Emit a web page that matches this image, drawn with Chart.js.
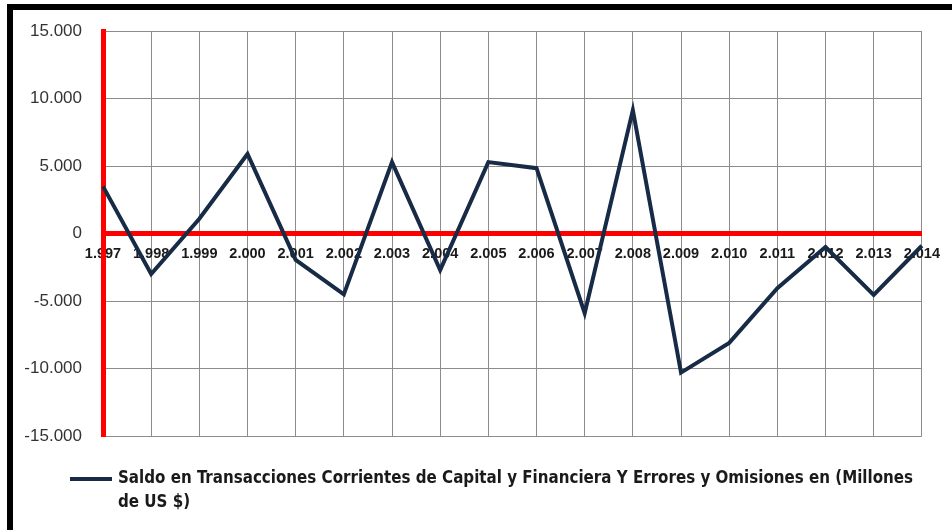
<!DOCTYPE html>
<html>
<head>
  <title>Saldo en Transacciones Corrientes</title>
  <script src="https://cdn.jsdelivr.net/npm/chart.js"></script>
  <style>
    body {
      margin: 0;
      background: #ffffff;
    }
    .frame {
      position: absolute;
      left: 7px;
      top: 4px;
      width: 960px;
      height: 540px;
      border-left: 6px solid #000;
      border-top: 6px solid #000;
    }
    .wrap {
      position: absolute;
      left: 0;
      top: 0;
      width: 952px;
      height: 530px;
    }
  </style>
</head>
<body>
  <div class="frame"></div>
  <div class="wrap">
    <canvas id="chart" width="952" height="530"></canvas>
  </div>

  <script>
    // datos
    const years = ["1.997", "1.998", "1.999", "2.000", "2.001", "2.002", "2.003", "2.004", "2.005",
                   "2.006", "2.007", "2.008", "2.009", "2.010", "2.011", "2.012", "2.013", "2.014"];
    const saldo = [3500, -3000, 1100, 5900, -1950, -4500, 5300, -2700, 5300,
                   4850, -5900, 9150, -10300, -8100, -4050, -1000, -4550, -900];
    const serieNombre = "Saldo en Transacciones Corrientes de Capital y Financiera Y Errores y Omisiones en (Millones de US $)";
    const yMin = -15000;
    const yMax = 15000;
    const yStep = 5000;

    const lineColor = "#172b46";

    // leyenda en dos lineas, como en el original
    const legendPlugin = {
      id: "wrapLegend",
      afterDraw(chart) {
        const ctx = chart.ctx;
        const ds = chart.data.datasets[0];
        const x0 = 70, y0 = 479, maxW = 805, lh = 24;
        ctx.save();
        ctx.strokeStyle = ds.borderColor;
        ctx.lineWidth = 4;
        ctx.beginPath();
        ctx.moveTo(x0, y0);
        ctx.lineTo(x0 + 42, y0);
        ctx.stroke();
        ctx.font = "bold 16.8px 'DejaVu Sans Condensed', 'Liberation Sans', sans-serif";
        ctx.fillStyle = "#1a1a1a";
        ctx.textBaseline = "middle";
        const words = ds.label.split(" ");
        let lines = [], cur = "";
        words.forEach(w => {
          const t = cur ? cur + " " + w : w;
          if (ctx.measureText(t).width > maxW && cur) {
            lines.push(cur);
            cur = w;
          } else {
            cur = t;
          }
        });
        lines.push(cur);
        lines.forEach((l, i) => ctx.fillText(l, x0 + 48, y0 + i * lh));
        ctx.restore();
      }
    };

    const ctx = document.getElementById("chart").getContext("2d");
    new Chart(ctx, {
      type: "line",
      data: {
        labels: years,
        datasets: [{
          label: serieNombre,
          data: saldo,
          borderColor: lineColor,
          backgroundColor: lineColor,
          borderWidth: 4,
          pointRadius: 0,
          tension: 0,
          fill: false,
        }],
      },
      options: {
        responsive: false,
        animation: false,
        layout: {
          padding: { top: 31, left: 0, right: 26, bottom: 94 },
        },
        plugins: {
          legend: { display: false },
          tooltip: { enabled: false },
        },
        scales: {
          x: {
            position: { y: 0 },
            grid: {
              color: (c) => c.index === 0 ? "rgba(0,0,0,0)" : "#8c8c8c",
              lineWidth: 1,
              drawTicks: false,
            },
            border: { color: "#ff0000", width: 5 },
            ticks: {
              color: "#1a1a1a",
              padding: 12,
              maxRotation: 0,
              autoSkip: false,
              font: { family: "'Liberation Sans', Arial, sans-serif", size: 14.5, weight: "bold" },
            },
          },
          y: {
            min: yMin,
            max: yMax,
            afterFit: (scale) => { scale.width = 103; },
            grid: {
              color: (c) => c.tick && c.tick.value === 0 ? "rgba(0,0,0,0)" : "#8c8c8c",
              lineWidth: 1,
              drawTicks: false,
            },
            border: { color: "#ff0000", width: 5 },
            ticks: {
              stepSize: yStep,
              color: "#333333",
              padding: 21,
              font: { family: "'Liberation Sans', Arial, sans-serif", size: 17 },
              callback: (v) => String(v).replace(/\B(?=(\d{3})+(?!\d))/g, "."),
            },
          },
        },
      },
      plugins: [legendPlugin],
    });
  </script>
</body>
</html>
